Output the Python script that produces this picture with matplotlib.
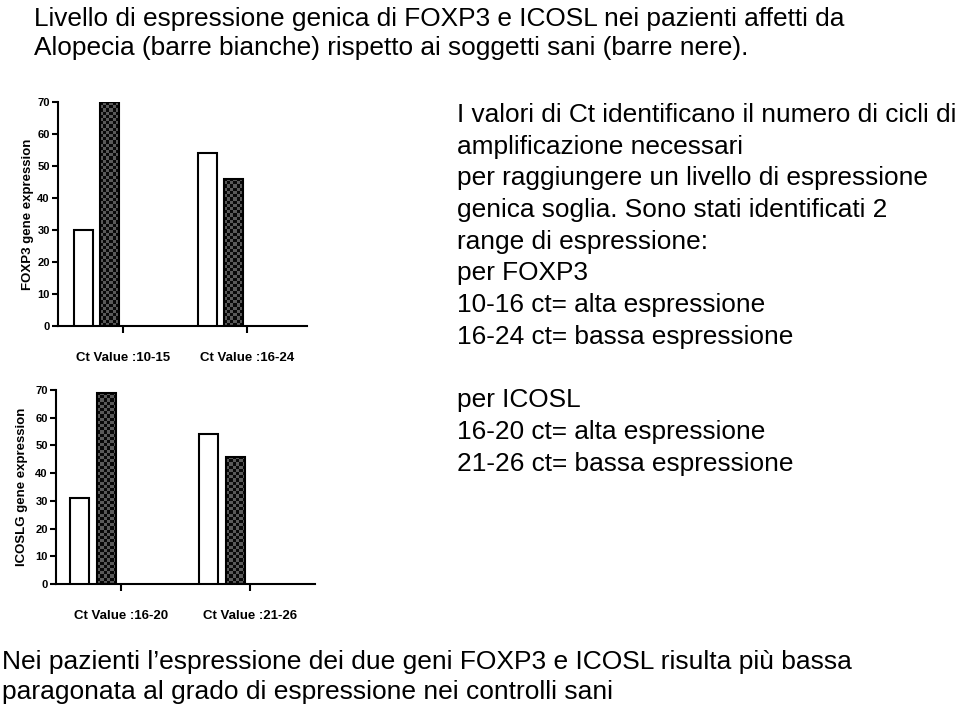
import numpy as np
import matplotlib.pyplot as plt
from matplotlib.patches import Rectangle

plt.rcParams['font.family'] = ['Liberation Sans', 'DejaVu Sans']

# dati
foxp3_groups = ["Ct Value :10-15", "Ct Value :16-24"]
foxp3_alopecia = [30, 54]   # barre bianche
foxp3_sani = [70, 46]       # barre nere

icos_groups = ["Ct Value :16-20", "Ct Value :21-26"]
icos_alopecia = [31, 54]
icos_sani = [69, 46]

title_lines = ["Livello di espressione genica di FOXP3 e ICOSL nei pazienti affetti da",
               "Alopecia (barre bianche) rispetto ai soggetti sani (barre nere)."]
note_lines = ["I valori di Ct identificano il numero di cicli di",
              "amplificazione necessari",
              "per raggiungere un livello di espressione",
              "genica soglia. Sono stati identificati 2",
              "range di espressione:",
              "per FOXP3",
              "10-16 ct= alta espressione",
              "16-24 ct= bassa espressione",
              "",
              "per ICOSL",
              "16-20 ct= alta espressione",
              "21-26 ct= bassa espressione"]
footer_lines = ["Nei pazienti l\u2019espressione dei due geni FOXP3 e ICOSL risulta più bassa",
                "paragonata al grado di espressione nei controlli sani"]

W, H = 959, 709
fig = plt.figure(figsize=(W / 100, H / 100), dpi=100)


def checker_bar(ax, x0, width, height, cell_px=3.2):
    # barra con motivo a scacchi (come nell'originale)
    rect = Rectangle((x0, 0), width, height, facecolor='none', edgecolor='black',
                     linewidth=1.5, zorder=3)
    ax.add_patch(rect)
    p0 = ax.transData.transform((x0, 0))
    p1 = ax.transData.transform((x0 + width, height))
    nx = max(1, int(round((p1[0] - p0[0]) / cell_px)))
    ny = max(1, int(round((p1[1] - p0[1]) / cell_px)))
    ii, jj = np.indices((ny, nx))
    img = ((ii + jj) % 2).astype(float)
    im = ax.imshow(img, extent=(x0, x0 + width, 0, height), cmap='gray',
                   vmin=-0.1, vmax=3.0, aspect='auto', interpolation='nearest',
                   zorder=2)
    im.set_clip_path(rect)


def bar_panel(rect_px, groups, white, dark, ylabel, xlim, pad):
    left, right, y0, y70 = rect_px
    ax = fig.add_axes([left / W, 1 - y0 / H, (right - left) / W, (y0 - y70) / H])
    ax.set_xlim(*xlim)
    ax.set_ylim(0, 70)
    x = np.arange(len(groups))
    w = 0.15
    ax.bar(x - 0.32, white, width=w, color='white', edgecolor='black',
           linewidth=1.5, zorder=3)
    for xi, v in zip(x, dark):
        checker_bar(ax, xi - 0.11 - w / 2, w, v)
    for s in ['top', 'right']:
        ax.spines[s].set_visible(False)
    for s in ['left', 'bottom']:
        ax.spines[s].set_linewidth(1.5)
    ax.set_yticks(np.arange(0, 71, 10))
    ax.set_xticks(x)
    ax.set_xticklabels(groups, fontsize=9.5, fontweight='bold')
    ax.tick_params(axis='y', labelsize=8, width=1.5, length=4, pad=2)
    ax.tick_params(axis='x', width=1.5, length=5, pad=14)
    for lab in ax.get_yticklabels():
        lab.set_fontweight('bold')
    ax.set_ylabel(ylabel, fontsize=9.5, fontweight='bold', labelpad=pad,
                  family=['Liberation Sans Narrow', 'Liberation Sans'])
    return ax


bar_panel((58, 307, 326, 102), foxp3_groups, foxp3_alopecia, foxp3_sani,
          "FOXP3 gene expression", (-0.524, 1.484), 2)
bar_panel((56, 315, 584, 390), icos_groups, icos_alopecia, icos_sani,
          "ICOSLG gene expression", (-0.504, 1.504), 5)


def text_lines(lines, x_px, y0_px, step_px, size):
    for i, line in enumerate(lines):
        if line:
            fig.text(x_px / W, 1 - (y0_px + i * step_px) / H, line,
                     fontsize=size, va='baseline', ha='left')


text_lines(title_lines, 34, 26, 29, 18.9)
text_lines(note_lines, 457, 122, 31.7, 18.9)
text_lines(footer_lines, 2, 669, 30, 19)

fig.savefig("out.png", dpi=100)
